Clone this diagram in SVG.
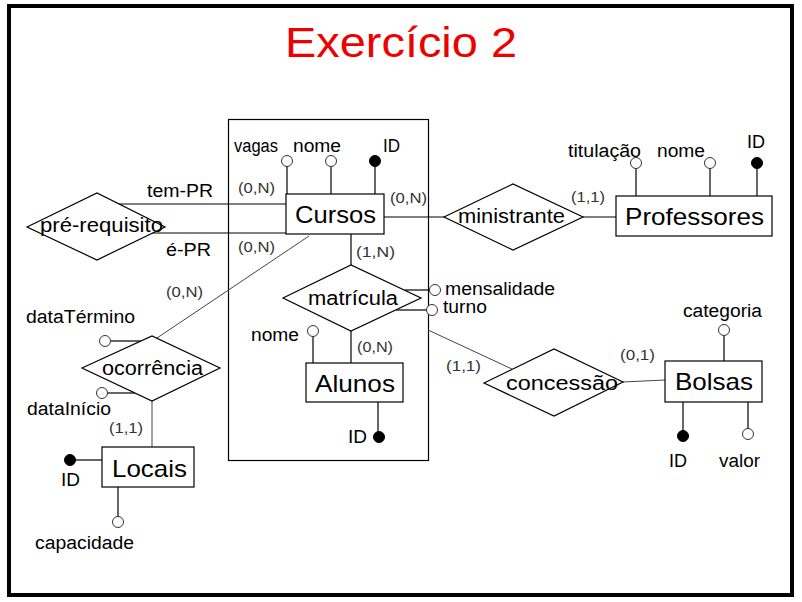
<svg xmlns="http://www.w3.org/2000/svg" width="802" height="602" viewBox="0 0 802 602">
<style>
text{font-family:"Liberation Sans",Arial,sans-serif;fill:#000}
.t{fill:#ee0000;font-size:43px}
.ent{font-size:24px}
.rel{font-size:20px}
.att{font-size:18px}
.card{font-size:15px;fill:#333}
.box{fill:#fff;stroke:#000;stroke-width:1.2}
.dia{fill:#fff;stroke:#000;stroke-width:1.2}
.ln{stroke:#000;stroke-width:1.2;fill:none}
.gl{stroke:#444;stroke-width:1;fill:none}
.oc{fill:#fff;stroke:#333;stroke-width:1}
.fc{fill:#000;stroke:#000;stroke-width:1}
</style>
<rect x="9" y="6" width="783" height="589" fill="#fff" stroke="#000" stroke-width="4"/>
<text class="t" x="285" y="57" textLength="232" lengthAdjust="spacingAndGlyphs">Exercício 2</text>

<g id="aggregation">
<rect x="228.5" y="119.5" width="200" height="341" fill="none" stroke="#000" stroke-width="1.2"/>
</g>

<g id="connectors">
<line class="ln" x1="119" y1="204" x2="286" y2="204"/>
<line class="ln" x1="152" y1="233" x2="286" y2="233"/>
<line class="ln" x1="384" y1="217" x2="444" y2="217"/>
<line class="ln" x1="583" y1="217" x2="616" y2="217"/>
<line class="ln" x1="351" y1="234" x2="351" y2="265"/>
<line class="ln" x1="351" y1="331" x2="351" y2="363"/>
<line class="gl" x1="309" y1="236" x2="157" y2="338"/>
<line class="gl" x1="152" y1="401" x2="152" y2="447"/>
<line class="gl" x1="428" y1="330" x2="512" y2="369"/>
<line class="gl" x1="623" y1="382" x2="665" y2="380"/>
<text class="att" x="147" y="197" textLength="66" lengthAdjust="spacingAndGlyphs">tem-PR</text>
<text class="att" x="166" y="256" textLength="45" lengthAdjust="spacingAndGlyphs">é-PR</text>
<text class="card" x="238" y="193" textLength="37" lengthAdjust="spacingAndGlyphs">(0,N)</text>
<text class="card" x="238" y="252" textLength="37" lengthAdjust="spacingAndGlyphs">(0,N)</text>
<text class="card" x="390" y="203" textLength="37" lengthAdjust="spacingAndGlyphs">(0,N)</text>
<text class="card" x="571" y="202" textLength="34" lengthAdjust="spacingAndGlyphs">(1,1)</text>
<text class="card" x="356" y="257" textLength="39" lengthAdjust="spacingAndGlyphs">(1,N)</text>
<text class="card" x="357" y="352" textLength="36" lengthAdjust="spacingAndGlyphs">(0,N)</text>
<text class="card" x="166" y="297" textLength="37" lengthAdjust="spacingAndGlyphs">(0,N)</text>
<text class="card" x="109" y="433" textLength="34" lengthAdjust="spacingAndGlyphs">(1,1)</text>
<text class="card" x="446" y="371" textLength="35" lengthAdjust="spacingAndGlyphs">(1,1)</text>
<text class="card" x="620" y="360" textLength="35" lengthAdjust="spacingAndGlyphs">(0,1)</text>
</g>

<g id="cursos">
<line class="ln" x1="287" y1="166" x2="287" y2="194"/>
<line class="ln" x1="331" y1="166" x2="331" y2="194"/>
<line class="ln" x1="375" y1="166" x2="375" y2="194"/>
<circle class="oc" cx="287" cy="161" r="5.5"/>
<circle class="oc" cx="331" cy="161" r="5.5"/>
<circle class="fc" cx="375" cy="161" r="5.5"/>
<text class="att" x="234" y="152" textLength="44" lengthAdjust="spacingAndGlyphs">vagas</text>
<text class="att" x="293" y="152" textLength="48" lengthAdjust="spacingAndGlyphs">nome</text>
<text class="att" x="383" y="152" textLength="17" lengthAdjust="spacingAndGlyphs">ID</text>
<rect class="box" x="286" y="194" width="98" height="40"/>
<text class="ent" x="295" y="223" textLength="81" lengthAdjust="spacingAndGlyphs">Cursos</text>
</g>

<g id="pre-requisito">
<polygon class="dia" points="27,227 97,193 165,227 97,260"/>
<text class="rel" x="40" y="232" textLength="123" lengthAdjust="spacingAndGlyphs">pré-requisito</text>
</g>

<g id="ministrante">
<polygon class="dia" points="444,217 513,184 583,217 513,250"/>
<text class="rel" x="458" y="223" textLength="107" lengthAdjust="spacingAndGlyphs">ministrante</text>
</g>

<g id="professores">
<line class="ln" x1="636" y1="168" x2="636" y2="196"/>
<line class="ln" x1="710" y1="168" x2="710" y2="196"/>
<line class="ln" x1="757" y1="168" x2="757" y2="196"/>
<circle class="oc" cx="636" cy="163" r="5.5"/>
<circle class="oc" cx="710" cy="163" r="5.5"/>
<circle class="fc" cx="757" cy="163" r="5.5"/>
<text class="att" x="568" y="157" textLength="73" lengthAdjust="spacingAndGlyphs">titulação</text>
<text class="att" x="657" y="157" textLength="48" lengthAdjust="spacingAndGlyphs">nome</text>
<text class="att" x="747" y="148" textLength="18" lengthAdjust="spacingAndGlyphs">ID</text>
<rect class="box" x="616" y="196" width="156" height="40"/>
<text class="ent" x="625" y="225" textLength="139" lengthAdjust="spacingAndGlyphs">Professores</text>
</g>

<g id="matricula">
<line class="ln" x1="405" y1="290" x2="430" y2="290"/>
<line class="ln" x1="396" y1="310" x2="427" y2="310"/>
<polygon class="dia" points="283,298 351,265 421,298 351,331"/>
<circle class="oc" cx="435" cy="290" r="5.5"/>
<circle class="oc" cx="432" cy="310" r="5.5"/>
<text class="rel" x="308" y="305" textLength="90" lengthAdjust="spacingAndGlyphs">matrícula</text>
<text class="att" x="445" y="295" textLength="110" lengthAdjust="spacingAndGlyphs">mensalidade</text>
<text class="att" x="443" y="313" textLength="44" lengthAdjust="spacingAndGlyphs">turno</text>
</g>

<g id="alunos">
<line class="ln" x1="313" y1="336" x2="313" y2="363"/>
<line class="ln" x1="378" y1="402" x2="378" y2="432"/>
<circle class="oc" cx="313" cy="331" r="5.5"/>
<circle class="fc" cx="379" cy="437" r="5.5"/>
<text class="att" x="251" y="341" textLength="48" lengthAdjust="spacingAndGlyphs">nome</text>
<text class="att" x="348" y="443" textLength="19" lengthAdjust="spacingAndGlyphs">ID</text>
<rect class="box" x="306" y="363" width="97" height="39"/>
<text class="ent" x="315" y="392" textLength="80" lengthAdjust="spacingAndGlyphs">Alunos</text>
</g>

<g id="ocorrencia">
<line class="ln" x1="110" y1="341" x2="141" y2="341"/>
<line class="ln" x1="107" y1="393" x2="135" y2="393"/>
<polygon class="dia" points="82,368 152,336 220,368 152,401"/>
<circle class="oc" cx="105" cy="341" r="5.5"/>
<circle class="oc" cx="102" cy="393" r="5.5"/>
<text class="rel" x="102" y="375" textLength="101" lengthAdjust="spacingAndGlyphs">ocorrência</text>
<text class="att" x="26" y="323" textLength="109" lengthAdjust="spacingAndGlyphs">dataTérmino</text>
<text class="att" x="27" y="415" textLength="84" lengthAdjust="spacingAndGlyphs">dataInício</text>
</g>

<g id="locais">
<line class="ln" x1="75" y1="460" x2="102" y2="460"/>
<line class="ln" x1="118" y1="487" x2="118" y2="517"/>
<circle class="fc" cx="70" cy="460" r="5.5"/>
<circle class="oc" cx="118" cy="522" r="5.5"/>
<text class="att" x="61" y="486" textLength="19" lengthAdjust="spacingAndGlyphs">ID</text>
<text class="att" x="35" y="549" textLength="99" lengthAdjust="spacingAndGlyphs">capacidade</text>
<rect class="box" x="102" y="447" width="92" height="40"/>
<text class="ent" x="112" y="477" textLength="75" lengthAdjust="spacingAndGlyphs">Locais</text>
</g>

<g id="concessao">
<polygon class="dia" points="484,383 554,349 623,382 554,416"/>
<text class="rel" x="506" y="390" textLength="112" lengthAdjust="spacingAndGlyphs">concessão</text>
</g>

<g id="bolsas">
<line class="ln" x1="724" y1="335" x2="724" y2="361"/>
<line class="ln" x1="683" y1="402" x2="683" y2="431"/>
<line class="ln" x1="748" y1="402" x2="748" y2="429"/>
<circle class="oc" cx="724" cy="330" r="5.5"/>
<circle class="fc" cx="683" cy="436" r="5.5"/>
<circle class="oc" cx="748" cy="434" r="5.5"/>
<text class="att" x="683" y="317" textLength="79" lengthAdjust="spacingAndGlyphs">categoria</text>
<text class="att" x="669" y="467" textLength="18" lengthAdjust="spacingAndGlyphs">ID</text>
<text class="att" x="719" y="467" textLength="41" lengthAdjust="spacingAndGlyphs">valor</text>
<rect class="box" x="665" y="361" width="97" height="41"/>
<text class="ent" x="675" y="390" textLength="78" lengthAdjust="spacingAndGlyphs">Bolsas</text>
</g>
</svg>
